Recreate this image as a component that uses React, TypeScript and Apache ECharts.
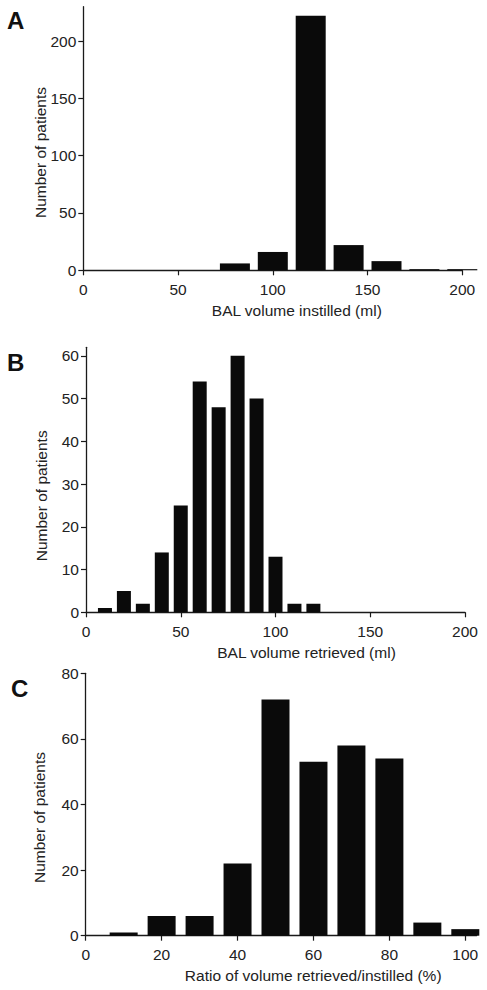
import React, { useEffect, useRef } from "react";
import * as echarts from "echarts";

// Panel A: BAL volume instilled (ml)
const binsA = [80, 100, 120, 140, 160, 180, 200];
const countsA = [6, 16, 222, 22, 8, 1, 1];
// Panel B: BAL volume retrieved (ml)
const binsB = [10, 20, 30, 40, 50, 60, 70, 80, 90, 100, 110, 120];
const countsB = [1, 5, 2, 14, 25, 54, 48, 60, 50, 13, 2, 2];
// Panel C: ratio retrieved/instilled (%)
const binsC = [10, 20, 30, 40, 50, 60, 70, 80, 90, 100];
const countsC = [1, 6, 6, 22, 72, 53, 58, 54, 4, 2];

const xTicksA = [0, 50, 100, 150, 200];
const yTicksA = [0, 50, 100, 150, 200];
const xTicksB = [0, 50, 100, 150, 200];
const yTicksB = [0, 10, 20, 30, 40, 50, 60];
const xTicksC = [0, 20, 40, 60, 80, 100];
const yTicksC = [0, 20, 40, 60, 80];

const titlesX = [
  "BAL volume instilled (ml)",
  "BAL volume retrieved (ml)",
  "Ratio of volume retrieved/instilled (%)",
];
const titleY = "Number of patients";
const panelLetters = ["A", "B", "C"];

const FONT = "Liberation Sans, Arial, Helvetica, sans-serif";
const AXIS_COLOR = "#1a1a1a";
const TEXT_COLOR = "#222";

function xAxisCfg(grid: number, max: number, ticks: number[], name: string, shift: number) {
  return {
    type: "value",
    gridIndex: grid,
    min: 0,
    max,
    splitLine: { show: false },
    axisLine: { show: true, onZero: false, lineStyle: { color: AXIS_COLOR, width: 1.3 } },
    axisTick: { show: true, length: 5, customValues: ticks, lineStyle: { color: AXIS_COLOR, width: 1.2 } },
    axisLabel: { customValues: ticks, margin: 11, fontSize: 15.5, color: TEXT_COLOR, fontFamily: FONT },
    name,
    nameLocation: "middle",
    nameGap: 32,
    nameMoveOverlap: false,
    nameTextStyle: { fontSize: 15.5, color: TEXT_COLOR, fontFamily: FONT, padding: [0, 0, 0, shift * 2] },
  };
}

function yAxisCfg(grid: number, max: number, ticks: number[], shift: number, gap: number) {
  return {
    type: "value",
    gridIndex: grid,
    min: 0,
    max,
    splitLine: { show: false },
    axisLine: { show: true, lineStyle: { color: AXIS_COLOR, width: 1.3 } },
    axisTick: { show: true, length: 5, customValues: ticks, lineStyle: { color: AXIS_COLOR, width: 1.2 } },
    axisLabel: { customValues: ticks, margin: 7, fontSize: 15.5, color: TEXT_COLOR, fontFamily: FONT },
    name: titleY,
    nameLocation: "middle",
    nameGap: gap,
    nameMoveOverlap: false,
    nameTextStyle: { fontSize: 15.5, color: TEXT_COLOR, fontFamily: FONT, padding: [0, shift * 2, 0, 0] },
  };
}

function barSeries(grid: number, bins: number[], counts: number[], width: number) {
  return {
    type: "bar",
    xAxisIndex: grid,
    yAxisIndex: grid,
    data: bins.map((b, i) => [b, counts[i]]),
    barWidth: width,
    clip: true,
    itemStyle: { color: "#0a0a0a" },
  };
}

export default function App() {
  const ref = useRef<HTMLDivElement>(null);
  useEffect(() => {
    document.body.style.margin = "0";
    if (!ref.current) return;
    const chart = echarts.init(ref.current, null, { renderer: "svg" });
    chart.setOption({
      animation: false,
      backgroundColor: "#ffffff",
      grid: [
        { left: 83.3, top: 6.7, width: 379, height: 263.6 },
        { left: 86, top: 347.3, width: 379, height: 265 },
        { left: 85.7, top: 673.3, width: 391, height: 262.4 },
      ],
      xAxis: [
        xAxisCfg(0, 200, xTicksA, titlesX[0], 24),
        xAxisCfg(1, 200, xTicksB, titlesX[1], 31),
        xAxisCfg(2, 103, xTicksC, titlesX[2], 32),
      ],
      yAxis: [
        yAxisCfg(0, 230, yTicksA, 14, 35),
        yAxisCfg(1, 62, yTicksB, 16, 36.5),
        yAxisCfg(2, 80, yTicksC, 13, 38),
      ],
      series: [
        barSeries(0, binsA, countsA, 30),
        barSeries(1, binsB, countsB, 14),
        barSeries(2, binsC, countsC, 28),
      ],
      graphic: [
        { type: "text", left: 7, top: 8, style: { text: panelLetters[0], font: `bold 24px ${FONT}`, fill: "#111" } },
        { type: "text", left: 7, top: 350, style: { text: panelLetters[1], font: `bold 24px ${FONT}`, fill: "#111" } },
        { type: "text", left: 11, top: 676, style: { text: panelLetters[2], font: `bold 24px ${FONT}`, fill: "#111" } },
      ],
    });
    return () => chart.dispose();
  }, []);
  return <div ref={ref} style={{ width: 487, height: 990 }} />;
}
